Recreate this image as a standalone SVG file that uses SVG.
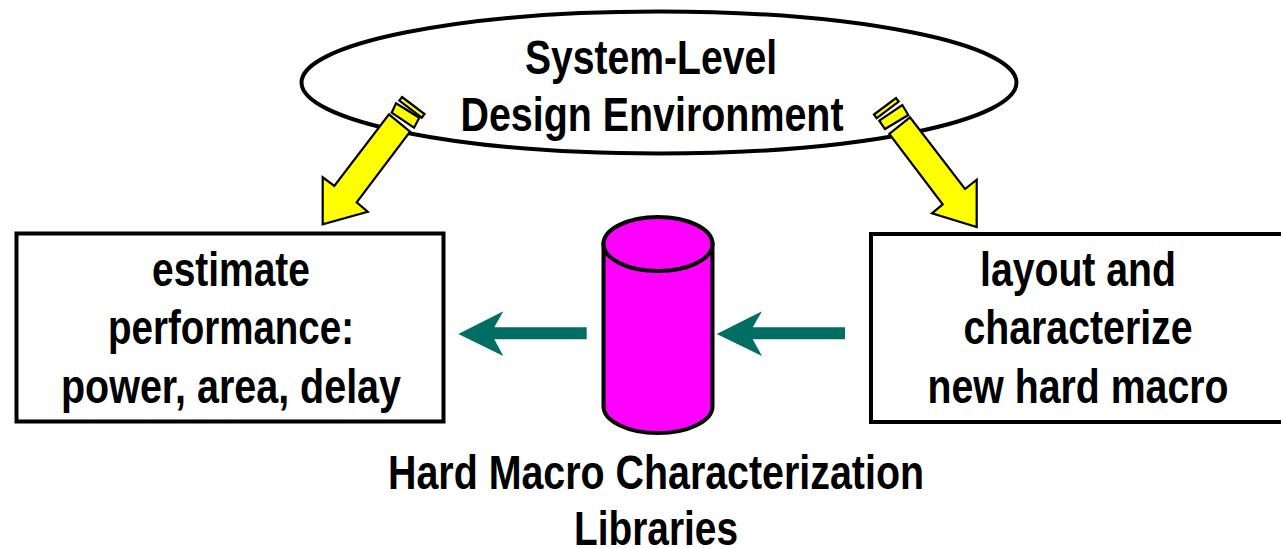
<svg xmlns="http://www.w3.org/2000/svg" width="1281" height="548" viewBox="0 0 1281 548">
<style>
text{font-family:"Liberation Sans",Arial,sans-serif;font-weight:bold;font-size:47.500px;fill:#000;text-anchor:middle}
.box{fill:#fff;stroke:#000;stroke-width:4}
.y{fill:#ff0;stroke:#000;stroke-width:2.200;stroke-linejoin:miter}
.g{fill:#006e62}
.c{fill:#f0f;stroke:#000;stroke-width:4}
</style>
<rect width="1281" height="548" fill="#fff"/>
<g id="env">
<ellipse cx="659" cy="82.500" rx="357.500" ry="71" fill="#fff" stroke="#000" stroke-width="4"/>
<text x="651" y="74" textLength="252" lengthAdjust="spacingAndGlyphs">System-Level</text>
<text x="652" y="131" textLength="383" lengthAdjust="spacingAndGlyphs">Design Environment</text>
</g>
<g id="estimate">
<rect class="box" x="16.500" y="233.500" width="427" height="188"/>
<text x="231" y="285.500" textLength="158" lengthAdjust="spacingAndGlyphs">estimate</text>
<text x="231" y="344" textLength="246" lengthAdjust="spacingAndGlyphs">performance:</text>
<text x="231" y="403" textLength="340" lengthAdjust="spacingAndGlyphs">power, area, delay</text>
</g>
<g id="layout">
<path class="box" d="M1281 234H871V422H1281"/>
<text x="1078" y="285.500" textLength="196" lengthAdjust="spacingAndGlyphs">layout and</text>
<text x="1078" y="344" textLength="229" lengthAdjust="spacingAndGlyphs">characterize</text>
<text x="1078" y="403" textLength="301" lengthAdjust="spacingAndGlyphs">new hard macro</text>
</g>
<g id="library">
<path class="c" d="M603.500 244V406.500C603.500 421 628 433 658 433S712.500 421 712.500 406.500V244Z"/>
<ellipse class="c" cx="658" cy="244" rx="54.500" ry="27"/>
<text x="656" y="488.500" textLength="536" lengthAdjust="spacingAndGlyphs">Hard Macro Characterization</text>
<text x="656" y="545" textLength="164" lengthAdjust="spacingAndGlyphs">Libraries</text>
</g>
<g id="connectors">
<g>
<polygon class="y" points="322.700,224.300 322.700,177.300 334.300,186 389,114.300 410,131.700 356.700,202.300 367.700,211.700"/>
<polygon class="y" points="396,103.300 419.300,117.700 414,127.700 391.700,112.700"/>
<polygon class="y" points="402,97 424.500,114 421.800,117.600 399.300,100.600"/>
</g>
<g>
<polygon class="y" points="976.700,227 976.700,179.700 965,189 910,117.300 889.300,134 942.700,204.300 932,213.300"/>
<polygon class="y" points="879.300,120.700 902.300,105 908.300,115 885,129"/>
<polygon class="y" points="874,114.500 896,98 898.700,101.600 876.700,118.100"/>
</g>
<polygon class="g" points="458.300,334 503.300,311.300 494.300,327.300 586.700,327.300 586.700,339.300 494.300,339.300 503.300,356"/>
<polygon class="g" points="716.700,334 762,311.300 752.700,327.300 845,327.300 845,339.300 752.700,339.300 762,356"/>
</g>
</svg>
